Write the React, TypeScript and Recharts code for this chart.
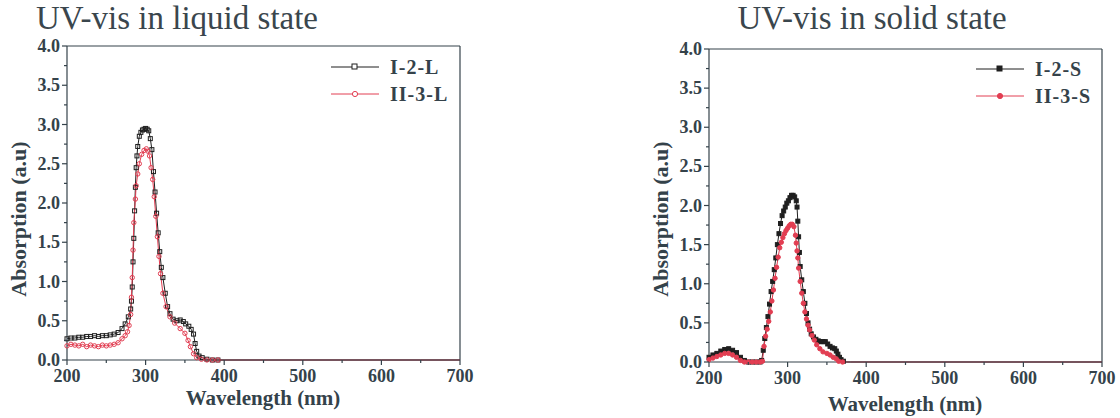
import { LineChart, Line, XAxis, YAxis, ReferenceLine } from 'recharts';

// liquid state spectra
const liqI2Wl = [200, 205, 210, 215, 220, 225, 230, 235, 240, 245, 250, 255, 260, 265, 270, 274, 278, 281, 282, 283, 284, 285, 286, 287, 288, 289, 290, 292, 294, 296, 298, 300, 302, 304, 306, 308, 310, 312, 314, 316, 318, 320, 322, 325, 328, 331, 335, 340, 344, 348, 351, 355, 358, 361, 363, 365, 368, 372, 378, 385, 392, 400, 450, 500, 550, 600, 650, 700];
const liqI2Abs = [0.27, 0.28, 0.28, 0.29, 0.29, 0.3, 0.3, 0.31, 0.3, 0.31, 0.31, 0.32, 0.33, 0.35, 0.4, 0.46, 0.55, 0.65, 0.75, 0.93, 1.25, 1.55, 1.9, 2.2, 2.45, 2.6, 2.72, 2.85, 2.9, 2.93, 2.94, 2.95, 2.94, 2.92, 2.82, 2.68, 2.4, 2.14, 1.87, 1.62, 1.38, 1.18, 1.05, 0.85, 0.68, 0.59, 0.52, 0.5, 0.51, 0.49, 0.46, 0.43, 0.39, 0.33, 0.21, 0.11, 0.05, 0.03, 0.01, 0, 0, 0, 0, 0, 0, 0, 0, 0];
const liqII3Wl = [200, 205, 210, 215, 220, 225, 230, 235, 240, 245, 250, 255, 260, 265, 270, 274, 277, 279, 281, 282, 283, 284, 285, 287, 288, 290, 292, 295, 298, 301, 303, 305, 307, 309, 311, 313, 315, 317, 319, 322, 326, 331, 337, 344, 350, 354, 357, 361, 365, 371, 378, 385, 392, 400, 450, 500, 550, 600, 650, 700];
const liqII3Abs = [0.18, 0.2, 0.19, 0.18, 0.2, 0.17, 0.19, 0.18, 0.17, 0.19, 0.18, 0.19, 0.2, 0.22, 0.27, 0.31, 0.36, 0.44, 0.58, 0.8, 1.05, 1.4, 1.75, 2.05, 2.22, 2.37, 2.5, 2.62, 2.67, 2.69, 2.66, 2.6, 2.45, 2.3, 2.08, 1.83, 1.57, 1.32, 1.1, 0.85, 0.68, 0.55, 0.47, 0.4, 0.34, 0.25, 0.17, 0.08, 0.03, 0.01, 0, 0, 0, 0, 0, 0, 0, 0, 0, 0];

// solid state spectra
const solI2Wl = [200, 205, 210, 215, 220, 225, 230, 235, 240, 245, 250, 255, 260, 265, 267, 269, 271, 273, 275, 277, 279, 281, 283, 285, 287, 289, 291, 293, 295, 297, 299, 301, 303, 305, 307, 309, 311, 312, 313, 314, 315, 316, 318, 320, 322, 324, 326, 328, 330, 333, 336, 339, 342, 345, 348, 351, 354, 357, 360, 362, 364, 366, 368, 371, 375, 380, 400, 450, 500, 550, 600, 650, 700];
const solI2Abs = [0.06, 0.09, 0.11, 0.14, 0.16, 0.17, 0.15, 0.12, 0.06, 0.02, 0, 0, 0, 0, 0.02, 0.15, 0.3, 0.44, 0.58, 0.74, 0.9, 1.03, 1.18, 1.33, 1.5, 1.64, 1.77, 1.87, 1.93, 1.98, 2.03, 2.06, 2.1, 2.13, 2.13, 2.11, 2.06, 1.98, 1.8, 1.6, 1.4, 1.22, 1.05, 0.9, 0.75, 0.62, 0.5, 0.42, 0.36, 0.32, 0.29, 0.27, 0.26, 0.26, 0.26, 0.23, 0.2, 0.18, 0.17, 0.14, 0.1, 0.06, 0.03, 0.01, 0, 0, 0, 0, 0, 0, 0, 0, 0];
const solII3Wl = [200, 205, 210, 215, 220, 225, 230, 235, 240, 245, 250, 255, 260, 265, 268, 270, 272, 274, 276, 278, 280, 282, 284, 286, 288, 290, 292, 294, 296, 298, 300, 302, 304, 306, 308, 310, 311, 312, 313, 314, 316, 318, 320, 322, 324, 326, 328, 331, 334, 337, 341, 345, 350, 354, 358, 362, 365, 370, 380, 400, 450, 500, 550, 600, 650, 700];
const solII3Abs = [0.03, 0.05, 0.07, 0.09, 0.11, 0.11, 0.09, 0.06, 0.02, 0, 0, 0, 0, 0, 0.01, 0.2, 0.33, 0.42, 0.52, 0.64, 0.78, 0.92, 1.07, 1.21, 1.34, 1.46, 1.53, 1.59, 1.64, 1.68, 1.71, 1.74, 1.76, 1.76, 1.73, 1.62, 1.52, 1.42, 1.33, 1.2, 1.03, 0.88, 0.75, 0.64, 0.55, 0.47, 0.41, 0.34, 0.28, 0.22, 0.17, 0.13, 0.11, 0.09, 0.06, 0.04, 0.01, 0, 0, 0, 0, 0, 0, 0, 0, 0];

const xTicks = [200, 250, 300, 350, 400, 450, 500, 550, 600, 650, 700];
const xLabels = [200, 300, 400, 500, 600, 700];
const yTicks = [0, 0.25, 0.5, 0.75, 1, 1.25, 1.5, 1.75, 2, 2.25, 2.5, 2.75, 3, 3.25, 3.5, 3.75, 4];
const yLabels = [0, 0.5, 1, 1.5, 2, 2.5, 3, 3.5, 4];

const SERIF = "'Liberation Serif', 'Times New Roman', serif";
const INK = '#34424a';
const BLACK = '#1f1f1f';
const RED = '#e23e52';

const zip = (wl: number[], abs: number[]) => wl.map((w, i) => ({ wl: w, abs: abs[i] }));

const XTick = (props: any) => {
  const { x, y, payload } = props;
  const major = xLabels.includes(payload.value);
  return (
    <g>
      <line x1={x} x2={x} y1={y} y2={y + (major ? 5 : 3)} stroke={INK} strokeWidth={1.2} />
      {major && (
        <text x={x} y={y + 22} textAnchor="middle" fontFamily={SERIF} fontWeight="bold" fontSize={18} fill={INK}>
          {payload.value}
        </text>
      )}
    </g>
  );
};

const YTick = (props: any) => {
  const { x, y, payload } = props;
  const major = yLabels.includes(payload.value);
  return (
    <g>
      <line x1={x} x2={x - (major ? 5 : 3)} y1={y} y2={y} stroke={INK} strokeWidth={1.2} />
      {major && (
        <text x={x - 7} y={y + 6} textAnchor="end" fontFamily={SERIF} fontWeight="bold" fontSize={18} fill={INK}>
          {payload.value.toFixed(1)}
        </text>
      )}
    </g>
  );
};

// markers stop where the curve has flattened onto the axis
const makeDot = (shape: string, color: string, filled: boolean, lastWl: number) => (p: any) => {
  const key = `dot-${p.index}`;
  if (p.payload.wl > lastWl) return <g key={key} />;
  if (shape === 'square') {
    return <rect key={key} x={p.cx - 2} y={p.cy - 2} width={4} height={4} fill={filled ? color : 'none'} stroke={color} strokeWidth={1} />;
  }
  return <circle key={key} cx={p.cx} cy={p.cy} r={2.2} fill={filled ? color : 'none'} stroke={color} strokeWidth={1} />;
};

const abs = (x: number, y: number, extra: any = {}) => ({
  position: 'absolute' as const,
  left: x,
  top: y,
  transform: 'translate(-50%, -50%)',
  whiteSpace: 'nowrap' as const,
  lineHeight: 1,
  fontFamily: SERIF,
  color: INK,
  ...extra,
});

function LegendRow({ y, x, label, color, shape, filled }: any) {
  return (
    <div style={{ position: 'absolute', left: x, top: y - 12, height: 24, display: 'flex', alignItems: 'center' }}>
      <svg width={48} height={10}>
        <line x1={0} x2={48} y1={5} y2={5} stroke={color} strokeWidth={1} />
        {shape === 'square' ? (
          <rect x={21} y={2} width={5} height={5} fill={filled ? color : 'white'} stroke={color} strokeWidth={1} />
        ) : (
          <circle cx={24} cy={5} r={2.6} fill={filled ? color : 'white'} stroke={color} strokeWidth={1} />
        )}
      </svg>
      <span style={{ marginLeft: 11, fontFamily: SERIF, fontWeight: 'bold', fontSize: 20, color: INK, letterSpacing: 1 }}>{label}</span>
    </div>
  );
}

function Panel({ left, width, margin, blackData, redData, filled, lastWl }: any) {
  return (
    <div style={{ position: 'absolute', left, top: 0 }}>
      <LineChart width={width} height={418} margin={margin}>
        <XAxis
          dataKey="wl"
          type="number"
          domain={[200, 700]}
          ticks={xTicks}
          interval={0}
          height={30}
          tickSize={0}
          tickMargin={0}
          tickLine={false}
          tick={<XTick />}
          axisLine={{ stroke: INK, strokeWidth: 1.2 }}
        />
        <YAxis
          type="number"
          domain={[0, 4]}
          ticks={yTicks}
          interval={0}
          width={40}
          tickSize={0}
          tickMargin={0}
          tickLine={false}
          tick={<YTick />}
          axisLine={{ stroke: INK, strokeWidth: 1.2 }}
        />
        <ReferenceLine y={4} stroke={INK} strokeWidth={1.2} />
        <ReferenceLine x={700} stroke={INK} strokeWidth={1.2} />
        <Line
          data={blackData}
          dataKey="abs"
          stroke={BLACK}
          strokeWidth={1}
          dot={makeDot('square', BLACK, filled, lastWl)}
          activeDot={false}
          isAnimationActive={false}
        />
        <Line
          data={redData}
          dataKey="abs"
          stroke={RED}
          strokeWidth={1}
          dot={makeDot('circle', RED, filled, lastWl)}
          activeDot={false}
          isAnimationActive={false}
        />
      </LineChart>
    </div>
  );
}

export default function App() {
  return (
    <div style={{ position: 'absolute', left: 0, top: 0, width: 1120, height: 418, background: '#fff', overflow: 'hidden' }}>
      <Panel
        left={0}
        width={480}
        margin={{ top: 46, right: 20, left: 27, bottom: 28 }}
        blackData={zip(liqI2Wl, liqI2Abs)}
        redData={zip(liqII3Wl, liqII3Abs)}
        filled={false}
        lastWl={392}
      />
      <Panel
        left={600}
        width={520}
        margin={{ top: 49, right: 18, left: 69, bottom: 26 }}
        blackData={zip(solI2Wl, solI2Abs)}
        redData={zip(solII3Wl, solII3Abs)}
        filled={true}
        lastWl={372}
      />

      <div style={abs(177, 18, { fontSize: 33, color: '#3a464d' })}>UV-vis in liquid state</div>
      <div style={abs(872, 18, { fontSize: 33, color: '#3a464d' })}>UV-vis in solid state</div>

      <div style={abs(19, 219, { fontSize: 22, fontWeight: 'bold', transform: 'translate(-50%, -50%) rotate(-90deg)' })}>Absorption (a.u)</div>
      <div style={abs(661, 219, { fontSize: 22, fontWeight: 'bold', transform: 'translate(-50%, -50%) rotate(-90deg)' })}>Absorption (a.u)</div>
      <div style={abs(263, 398, { fontSize: 21, fontWeight: 'bold' })}>Wavelength (nm)</div>
      <div style={abs(905, 404, { fontSize: 21, fontWeight: 'bold' })}>Wavelength (nm)</div>

      <LegendRow x={331} y={67} label="I-2-L" color={BLACK} shape="square" filled={false} />
      <LegendRow x={331} y={94} label="II-3-L" color={RED} shape="circle" filled={false} />
      <LegendRow x={976} y={69} label="I-2-S" color={BLACK} shape="square" filled={true} />
      <LegendRow x={976} y={96} label="II-3-S" color={RED} shape="circle" filled={true} />
    </div>
  );
}
